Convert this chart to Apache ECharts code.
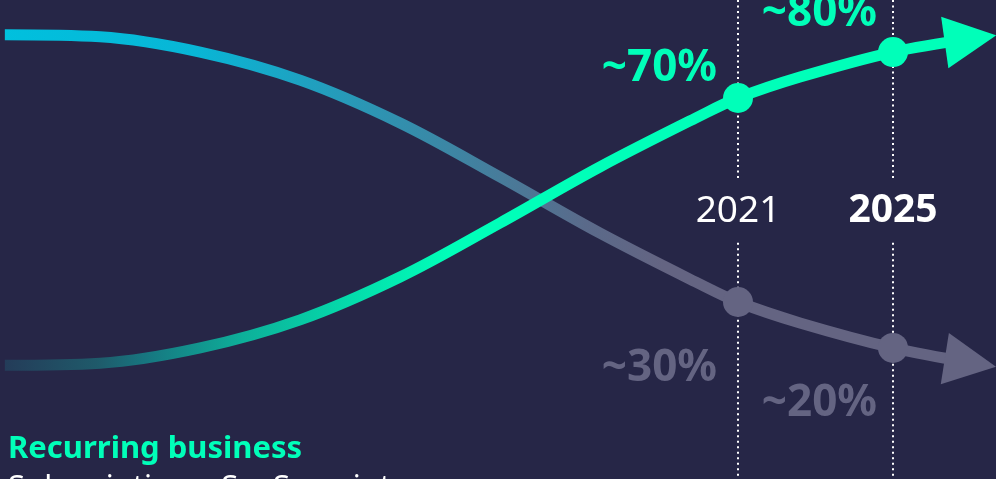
<!DOCTYPE html>
<html>
<head>
<meta charset="utf-8">
<script src="https://cdn.jsdelivr.net/npm/echarts@6/dist/echarts.min.js"></script>
<style>
  html, body { margin: 0; padding: 0; background: #262647; }
  #chart { width: 996px; height: 479px; }
</style>
</head>
<body>
<div id="chart"></div>
<script>
// ---- data ----
const years = [2002.08, 2004.54, 2007.12, 2009.70, 2012.28, 2014.86, 2017.44, 2020.02, 2021, 2022.6, 2025, 2027.0];
const recurring = [17.6, 18.0, 21.0, 26.5, 34.9, 45.5, 56.5, 66.5, 70, 74.1, 79, 81.6];
const other = [82.4, 82.0, 79.0, 73.5, 65.1, 54.5, 43.5, 33.5, 30, 25.9, 21, 18.1];
const milestoneYears = [2021, 2025];
const milestoneLabels = ['2021', '2025'];
const recurringLabels = ['~70%', '~80%'];
const otherLabels = ['~30%', '~20%'];
const titleText = 'Recurring business';
const subtitleText = 'Subscriptions, SaaS, maintenance';

// ---- build ----
const GREEN = '#00ffb9';
const GRAY = '#646482';
const BG = '#262647';
const YMIN = -4.706, YMAX = 89.216;
const lastIdx = years.length - 1;
const lineOf = arr => years.map((y, i) => [y, arr[i]]);
const milestoneIdx = milestoneYears.map(y => years.indexOf(y));

const chart = echarts.init(document.getElementById('chart'), null, { renderer: 'canvas' });

const guideSeries = [];
milestoneYears.forEach(y => {
  guideSeries.push({
    type: 'line', data: [[y, YMAX], [y, 54.3]], symbol: 'none', silent: true, clip: false, z: 1,
    lineStyle: { color: '#ffffff', width: 2, type: [2, 3.5] }
  });
  guideSeries.push({
    type: 'line', data: [[y, 41.6], [y, YMIN]], symbol: 'none', silent: true, clip: false, z: 1,
    lineStyle: { color: '#ffffff', width: 2, type: [2, 3.5] }
  });
});

const option = {
  backgroundColor: BG,
  animation: false,
  grid: { left: 0, right: 0, top: 0, bottom: 0 },
  xAxis: { type: 'value', min: 2001.955, max: 2027.658, show: false, splitLine: { show: false } },
  yAxis: { type: 'value', min: YMIN, max: YMAX, show: false, splitLine: { show: false } },
  series: guideSeries.concat([
    {
      type: 'line', data: lineOf(other), smooth: 0.35, symbol: 'none', z: 3, clip: false,
      lineStyle: {
        width: 11, cap: 'butt',
        color: { type: 'linear', x: 0, y: 0, x2: 1, y2: 0, colorStops: [
          { offset: 0, color: '#00c0de' },
          { offset: 0.2, color: '#08b6d6' },
          { offset: 0.45, color: '#3a88a6' },
          { offset: 0.6, color: '#5a6a8a' },
          { offset: 0.68, color: GRAY },
          { offset: 1, color: GRAY }
        ] }
      }
    },
    {
      type: 'line', data: lineOf(recurring), smooth: 0.35, symbol: 'none', z: 4, clip: false,
      lineStyle: {
        width: 11, cap: 'butt',
        color: { type: 'linear', x: 0, y: 0, x2: 1, y2: 0, colorStops: [
          { offset: 0, color: '#243a58' },
          { offset: 0.1, color: '#1f5a6a' },
          { offset: 0.15, color: '#177680' },
          { offset: 0.25, color: '#0db09a' },
          { offset: 0.36, color: '#04dcab' },
          { offset: 0.46, color: GREEN },
          { offset: 1, color: GREEN }
        ] }
      }
    },
    {
      type: 'scatter', z: 5, clip: false, symbolSize: 30,
      itemStyle: { color: GRAY, opacity: 1 },
      data: milestoneIdx.map(i => [years[i], other[i]])
    },
    {
      type: 'scatter', z: 6, clip: false, symbolSize: 30,
      itemStyle: { color: GREEN, opacity: 1 },
      data: milestoneIdx.map(i => [years[i], recurring[i]])
    },
    {
      type: 'scatter', z: 5, clip: false, symbol: 'triangle', symbolSize: [52, 52], symbolRotate: -99,
      itemStyle: { color: GRAY, opacity: 1 },
      data: [[years[lastIdx], other[lastIdx]]]
    },
    {
      type: 'scatter', z: 6, clip: false, symbol: 'triangle', symbolSize: [52, 52], symbolRotate: -82,
      itemStyle: { color: GREEN, opacity: 1 },
      data: [[years[lastIdx], recurring[lastIdx]]]
    }
  ]),
  graphic: [
    { type: 'text', x: 717, y: 68.1, style: { text: recurringLabels[0], align: 'right', verticalAlign: 'middle', fill: GREEN, font: 'bold 44px "Noto Sans"' } },
    { type: 'text', x: 877, y: 13.1, style: { text: recurringLabels[1], align: 'right', verticalAlign: 'middle', fill: GREEN, font: 'bold 44px "Noto Sans"' } },
    { type: 'text', x: 717, y: 368.1, style: { text: otherLabels[0], align: 'right', verticalAlign: 'middle', fill: GRAY, font: 'bold 44px "Noto Sans"' } },
    { type: 'text', x: 877, y: 403.1, style: { text: otherLabels[1], align: 'right', verticalAlign: 'middle', fill: GRAY, font: 'bold 44px "Noto Sans"' } },
    { type: 'text', x: 738, y: 211.3, style: { text: milestoneLabels[0], align: 'center', verticalAlign: 'middle', fill: '#ffffff', font: '37px "Noto Sans"' } },
    { type: 'text', x: 893, y: 210.7, style: { text: milestoneLabels[1], align: 'center', verticalAlign: 'middle', fill: '#ffffff', font: 'bold 39px "Noto Sans"' } },
    { type: 'text', x: 8, y: 449.2, style: { text: titleText, align: 'left', verticalAlign: 'middle', fill: GREEN, font: 'bold 31px "Noto Sans"' } },
    { type: 'text', x: 8, y: 488.5, style: { text: subtitleText, align: 'left', verticalAlign: 'middle', fill: '#ffffff', font: '31px "Noto Sans"' } }
  ]
};
chart.setOption(option);
</script>
</body>
</html>
